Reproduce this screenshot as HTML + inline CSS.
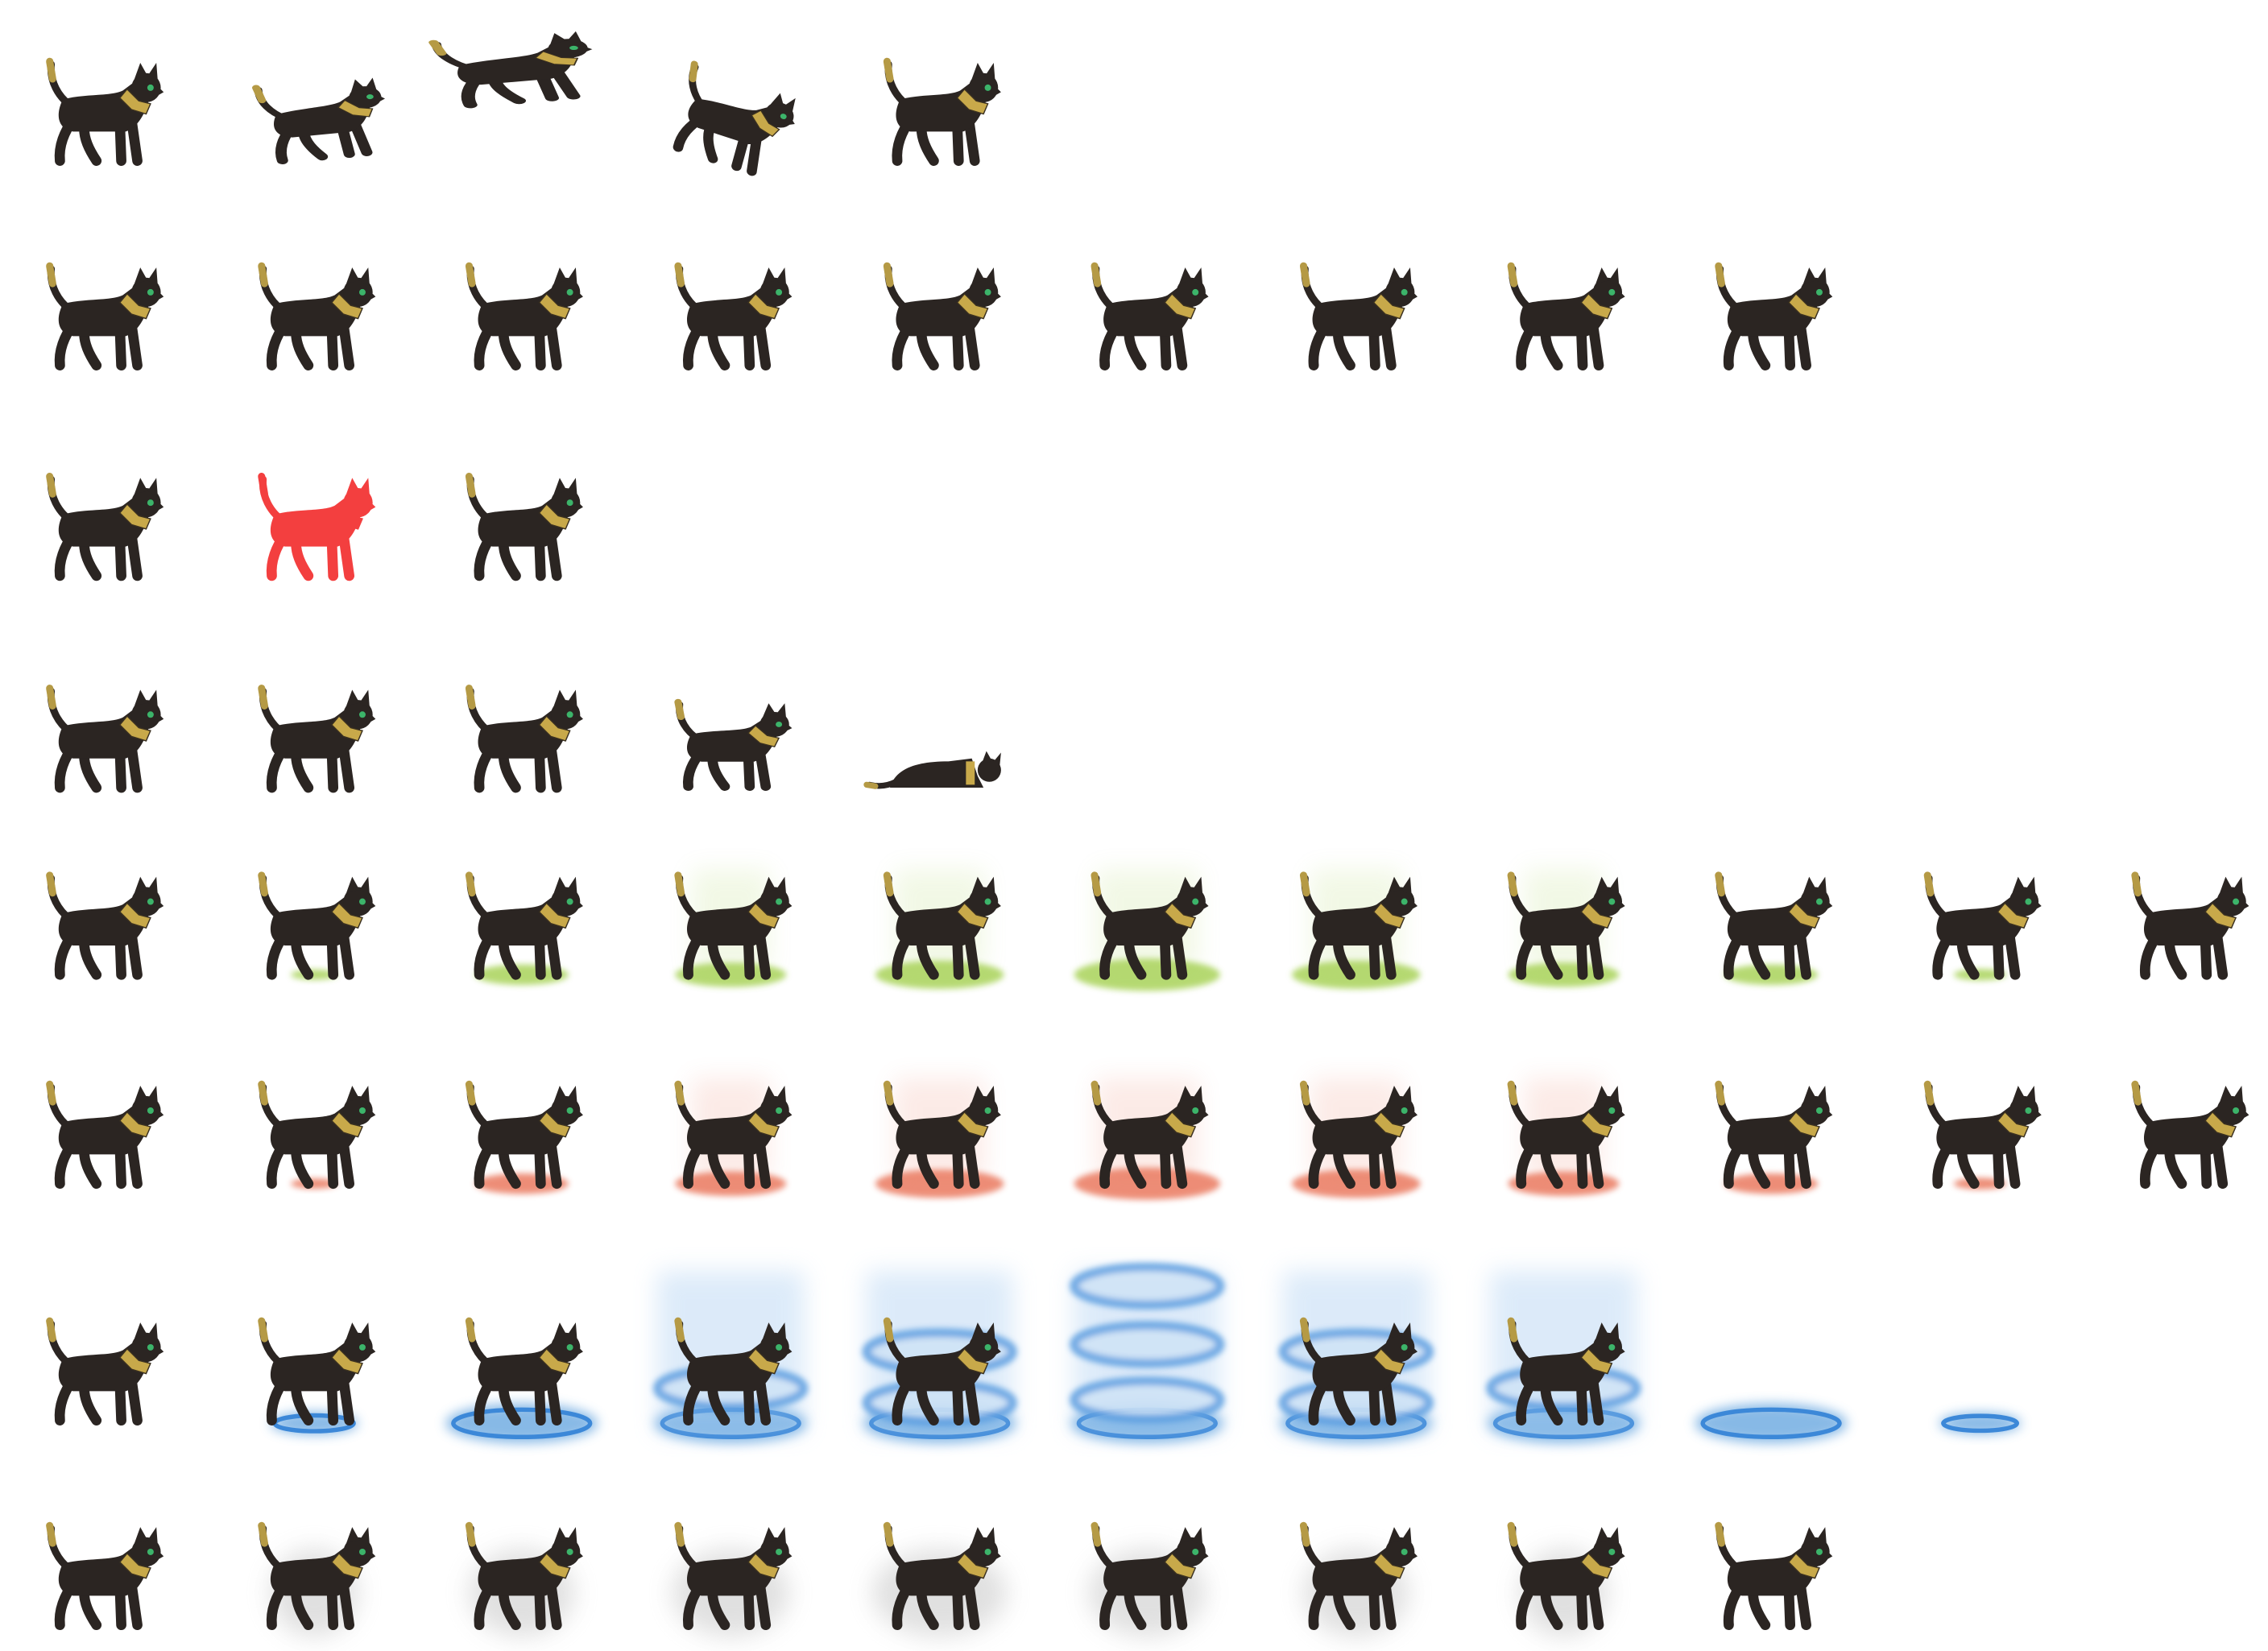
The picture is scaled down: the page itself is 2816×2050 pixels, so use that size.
<!DOCTYPE html>
<html><head><meta charset="utf-8"><style>
html,body{margin:0;padding:0;background:#fff;}
svg{display:block;}
</style></head><body>
<svg id="sheet" xmlns="http://www.w3.org/2000/svg" width="2816" height="2050" viewBox="0 0 1552 1129.8">
<defs>
<filter id="blur4" x="-50%" y="-50%" width="200%" height="200%"><feGaussianBlur stdDeviation="4"/></filter>
<filter id="blur8" x="-50%" y="-50%" width="200%" height="200%"><feGaussianBlur stdDeviation="8"/></filter>
<filter id="blur2" x="-50%" y="-50%" width="200%" height="200%"><feGaussianBlur stdDeviation="2"/></filter>
<filter id="red"><feColorMatrix type="matrix" values="0 0 0 0 0.9  0 0 0 0 0.05  0 0 0 0 0.05  0 0 0 1 0"/></filter>
<g id="cat">
 <path d="M-22,-6 C-30,-12 -36,-22 -35,-34" stroke="#2b2522" stroke-width="5" fill="none" stroke-linecap="round"/>
 <path d="M-36,-36 L-34,-24" stroke="#b59a45" stroke-width="5" stroke-linecap="round"/>
 <g stroke="#2b2522" stroke-width="7" stroke-linecap="round" fill="none">
  <path d="M-20,4 C-26,12 -30,22 -29,32"/>
  <path d="M-12,6 C-14,16 -8,26 -4,32"/>
  <path d="M12,6 L13,32"/>
  <path d="M20,4 L24,32"/>
 </g>
 <path d="M-27,-10 C-12,-14 6,-12 14,-16 L22,-22 L32,-10 C28,4 22,10 16,12 L-20,12 C-31,10 -32,0 -27,-10Z" fill="#2b2522"/>
 <circle cx="30" cy="-18" r="10" fill="#2b2522"/>
 <path d="M22,-24 L26,-35 L31,-26Z M31,-26 L37,-35 L38,-22Z" fill="#2b2522"/>
 <path d="M36,-21 L42,-15 L35,-11Z" fill="#2b2522"/>
 <path d="M17,-17 L25,-9 L33,-7 L30,0 L20,-3 L12,-11Z" fill="#c8a94a" stroke="#3a3020" stroke-width="0.8"/>
 <circle cx="33" cy="-18" r="2.2" fill="#3cb46a"/>
</g>
<g id="catlie">
 <path d="M-44,10 C-36,12 -30,10 -26,8" stroke="#2b2522" stroke-width="4" fill="none" stroke-linecap="round"/>
 <path d="M-46,10 L-40,11" stroke="#b59a45" stroke-width="4" stroke-linecap="round"/>
 <path d="M-30,12 C-26,-2 -10,-6 10,-6 L26,-8 L30,4 L34,12 Z" fill="#2b2522"/>
 <circle cx="38" cy="0" r="8" fill="#2b2522"/>
 <path d="M33,-5 L36,-13 L40,-6Z M41,-6 L46,-12 L45,-2Z" fill="#2b2522"/>
 <path d="M22,-6 L28,-6 L28,10 L22,10Z" fill="#c8a94a"/>
</g>
</defs>
<g id="content"></g>
</svg>
<script>
const rowY=[78,218,362,507,635,778,940,1080];
const colX=[70,215,357,500,643,785,928,1070,1212,1355,1497];
const rowCounts=[5,9,3,5,11,11,10,9];
const greenGlow=[0,16,32,38,44,50,44,38,32,18,0];
const redGlow=[0,16,32,38,44,50,44,38,32,18,0];
const blueGlow=[0,30,52,52,52,52,52,52,52,28,0];
const dustGlow=[0,30,36,40,46,40,36,30,0];
const NS="http://www.w3.org/2000/svg";
const content=document.getElementById('content');
function mk(tag,attrs,parent){const e=document.createElementNS(NS,tag);for(const k in attrs)e.setAttribute(k,attrs[k]);(parent||content).appendChild(e);return e;}
for(let r=0;r<rowCounts.length;r++){
 for(let c=0;c<rowCounts[r];c++){
  const g=mk('g',{transform:`translate(${colX[c]},${rowY[r]})`});
  
  
  const fx=(r===4)?greenGlow[c]:(r===5)?redGlow[c]:0;
  if(fx>0){
   const col=r===4?'#a9d35a':'#ea7a60';
   mk('ellipse',{cx:0,cy:32,rx:fx,ry:fx*0.22,fill:col,opacity:0.85,filter:'url(#blur2)'},g);
   if(fx>=38) mk('rect',{x:-fx*0.7,y:-40,width:fx*1.4,height:70,fill:col,opacity:0.15,filter:'url(#blur8)'},g);
  }
  if(r===6){
   const b=blueGlow[c];
   if(b>0){
    mk('ellipse',{cx:0,cy:34,rx:b,ry:b*0.26,fill:'#6aa8e0',opacity:0.8,filter:'url(#blur4)'},g);
    mk('ellipse',{cx:0,cy:34,rx:b*0.9,ry:b*0.18,fill:'none',stroke:'#3c88d8',"stroke-width":3},g);
   }
   if(c>=3&&c<=7){
    mk('rect',{x:-50,y:-70,width:100,height:110,fill:'#9cc6ef',opacity:0.35,filter:'url(#blur8)'},g);
    const rings=c===5?[-60,-20,18]:c===4||c===6?[-15,20]:[10];
    rings.forEach(y=>mk('ellipse',{cx:0,cy:y,rx:50,ry:13,fill:'#cfe3f6',stroke:'#5a9de0',"stroke-width":6,opacity:0.85,filter:'url(#blur2)'},g));
   }
  }
  if(r===7&&dustGlow[c]>0){
   mk('ellipse',{cx:0,cy:10,rx:dustGlow[c],ry:30,fill:'#bbbbbb',opacity:0.45,filter:'url(#blur8)'},g);
  }
  let showCat=true;
  if(r===6&&(c===5||c===8||c===9))showCat=false;
  if(!showCat)continue;
  const u=mk('use',{href:(r===3&&c===4)?'#catlie':'#cat'},g);
  
  
  if(r===0&&c===1)u.setAttribute('transform','translate(5,5) scale(1.1,0.75) rotate(-8)');
  if(r===0&&c===2)u.setAttribute('transform','translate(-4,-30) scale(1.35,0.65) rotate(-10)');
  if(r===0&&c===3)u.setAttribute('transform','translate(0,6) rotate(18) scale(1,0.85)');
  if(r===3&&c===4)u.setAttribute('transform','translate(-4,20)');
  if(r===3&&c===3)u.setAttribute('transform','translate(0,4) scale(1,0.85)');
  if(r===2&&c===1){u.setAttribute('filter','url(#red)');}
 }
}
</script>
</body></html>
